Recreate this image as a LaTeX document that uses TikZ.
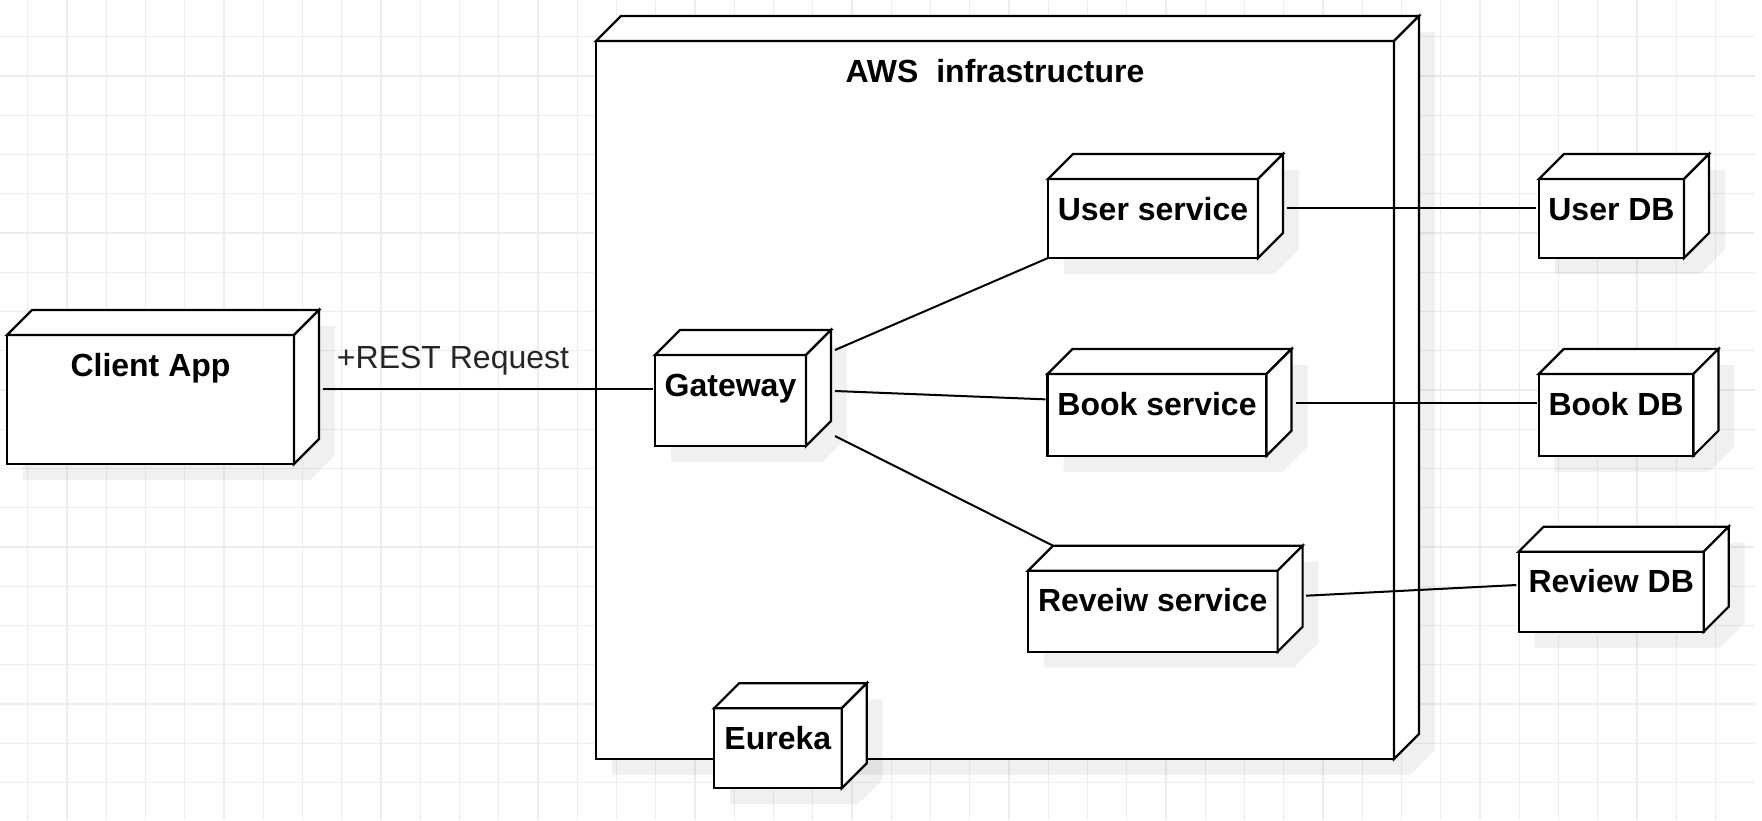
\documentclass[tikz,border=0pt]{standalone}
\usepackage{fontspec}
\setmainfont{Liberation Sans}
\usetikzlibrary{calc}
\definecolor{gridc}{HTML}{EDEDED}
\tikzset{
  shadowfill/.style={fill=black, fill opacity=0.06},
  boxline/.style={draw=black, line width=2.2pt, fill=white},
  lbl/.style={font=\fontsize{32}{38}\selectfont\bfseries, inner sep=0pt, text=black},
  conn/.style={draw=black, line width=2pt},
  reqlbl/.style={font=\fontsize{32}{38}\selectfont, inner sep=0pt, text=black!85},
}
% #1 name, #2 x1, #3 y1, #4 x2, #5 y2 (front face), #6 text
\newcommand{\threedbox}[6]{%
  \fill[shadowfill] (#2+16,#3+16) -- (#2+41,#3-9) -- (#4+41,#3-9) -- (#4+41,#5-9) -- (#4+16,#5+16) -- (#2+16,#5+16) -- cycle;
  \node[inner sep=0pt, outer sep=0pt, minimum width={#4-#2+25}, minimum height={#5-#3+25}, anchor=south west] (#1) at (#2,#5) {};
  \draw[boxline] (#2,#3) rectangle (#4,#5);
  \draw[boxline] (#2,#3) -- (#2+25,#3-25) -- (#4+25,#3-25) -- (#4,#3) -- cycle;
  \draw[boxline] (#4,#3) -- (#4+25,#3-25) -- (#4+25,#5-25) -- (#4,#5) -- cycle;
  \node[lbl, anchor=base] (#1-t) at ({(#2+#4)/2},#3+41) {#6};
}
\begin{document}
\begin{tikzpicture}[x=1pt,y=-1pt]
\useasboundingbox (0,0) rectangle (1762,820);
\fill[white] (0,0) rectangle (1762,820);
% grid
\foreach \k in {0,...,43} {
  \draw[gridc, line width=1.3pt] ({27.7+39.25*\k},0) -- ({27.7+39.25*\k},820);
}
\foreach \k in {0,...,19} {
  \draw[gridc, line width=1.3pt] (0,{36.7+39.25*\k}) -- (1755,{36.7+39.25*\k});
}
% boxes
\threedbox{aws}{596}{41}{1394}{759}{AWS\ \ infrastructure}
\threedbox{ca}{7}{335}{294}{464}{Client App}
\threedbox{gw}{655}{355}{806}{446}{Gateway}
\threedbox{us}{1048}{179}{1258}{258}{User service}
\threedbox{bs}{1047.5}{374}{1266.5}{455.7}{Book service}
\threedbox{rs}{1028}{570.7}{1277.6}{651.7}{Reveiw service}
\threedbox{udb}{1539}{179}{1684}{258}{User DB}
\threedbox{bdb}{1538.7}{374}{1693.4}{455.7}{Book DB}
\threedbox{rdb}{1518.7}{551.7}{1703.7}{631.7}{Review DB}
\threedbox{eu}{714}{708.3}{841.7}{788.3}{Eureka}
% connectors
\draw[conn] ($(ca.east)+(4,2)$) -- node[reqlbl, pos=0.394, anchor=base, yshift=20.7pt] (req) {+REST Request} ($(gw.west)+(-2,1)$);
\draw[conn] ($(gw.north east)+(4,20)$) -- (us.south west);
\draw[conn] ($(gw.east)+(4,3)$) -- ($(bs.west)+(-2,-3)$);
\draw[conn] ($(gw.south east)+(4,-10)$) -- ($(rs.north west)+(25,0)$);
\draw[conn] ($(us.east)+(4,1.5)$) -- ($(udb.west)+(-3,1.5)$);
\draw[conn] ($(bs.east)+(4,1)$) -- ($(bdb.west)+(-2,1)$);
\draw[conn] ($(rs.east)+(3.4,-3)$) -- ($(rdb.west)+(-2.3,5.8)$);
\end{tikzpicture}
\end{document}
